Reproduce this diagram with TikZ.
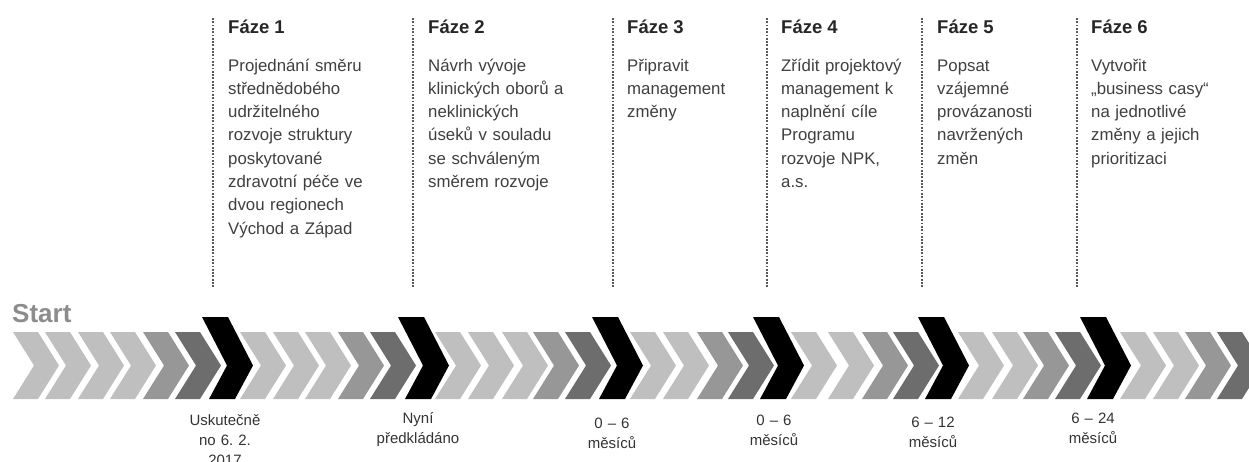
\documentclass[tikz,border=0pt]{standalone}
\usepackage{fontspec}
\setmainfont{Liberation Sans}
\frenchspacing
\definecolor{lg}{HTML}{BFBFBF}
\definecolor{mg}{HTML}{979797}
\definecolor{dg}{HTML}{6D6D6D}
\definecolor{headc}{HTML}{262626}
\definecolor{bodyc}{HTML}{3F3F3F}
\definecolor{labc}{HTML}{333333}
\definecolor{startc}{HTML}{8C8C8C}
\definecolor{dotc}{HTML}{595959}
\newcommand\gchev[2]{\fill[#2] (#1,332) -- ++(25,0) -- ++(21,33.5) -- ++(-21,33.5) -- ++(-25,0) -- ++(21,-33.5) -- cycle;}
\newcommand\bchev[1]{\fill[black] (#1,317) -- ++(26,0) -- ++(25,48.5) -- ++(-18,33.5) -- ++(-26,0) -- ++(18,-33.5) -- cycle;}
\begin{document}
\begin{tikzpicture}[x=1pt,y=-1pt,
  heading/.style={anchor=base west,inner sep=0pt,text=headc,font=\fontsize{18.5}{22}\selectfont\bfseries},
  body/.style={anchor=base west,inner sep=0pt,text=bodyc,text width=150pt,align=left,font=\fontsize{16.8}{23.3}\selectfont},
  lab/.style={anchor=base,inner sep=0pt,text=labc,text width=110pt,align=center,font=\fontsize{15}{20}\selectfont},
  dotline/.style={draw=dotc,line width=2pt,dash pattern=on 1.8pt off 1.5pt}]
\useasboundingbox (0,0) rectangle (1249,461);
\clip (0,0) rectangle (1249,461);
% chevron band
\foreach \x in {13,45,78,110} {\gchev{\x}{lg}}
\gchev{143}{mg}\gchev{175}{dg}\bchev{202}
\foreach \x in {240,273,305} {\gchev{\x}{lg}}
\gchev{338}{mg}\gchev{370}{dg}\bchev{398}
\foreach \x in {435,468,502} {\gchev{\x}{lg}}
\gchev{533}{mg}\gchev{565}{dg}\bchev{592}
\foreach \x in {630,663} {\gchev{\x}{lg}}
\gchev{697}{mg}\gchev{728}{dg}\bchev{753}
\foreach \x in {791,828} {\gchev{\x}{lg}}
\gchev{862}{mg}\gchev{893}{dg}\bchev{918}
\foreach \x in {958,992} {\gchev{\x}{lg}}
\gchev{1023}{mg}\gchev{1055}{dg}\bchev{1080}
\foreach \x in {1120,1153} {\gchev{\x}{lg}}
\gchev{1185}{mg}\gchev{1217}{dg}
% start
\node[anchor=base west,inner sep=0pt,text=startc,font=\fontsize{26}{30}\selectfont\bfseries] (start) at (12,322) {Start};
% dotted lines
\coordinate (d1t) at (213,18); \coordinate (d1b) at (213,287);
\coordinate (d2t) at (413,18); \coordinate (d2b) at (413,287);
\coordinate (d3t) at (613,18); \coordinate (d3b) at (613,287);
\coordinate (d4t) at (767,18); \coordinate (d4b) at (767,287);
\coordinate (d5t) at (922,18); \coordinate (d5b) at (922,287);
\coordinate (d6t) at (1077,18); \coordinate (d6b) at (1077,287);
\foreach \i in {1,...,6} {\draw[dotline] (d\i t) -- (d\i b);}
% headings
\node[heading] (h1) at (228,33) {Fáze 1};
\node[heading] (h2) at (428,33) {Fáze 2};
\node[heading] (h3) at (627,33) {Fáze 3};
\node[heading] (h4) at (781,33) {Fáze 4};
\node[heading] (h5) at (937,33) {Fáze 5};
\node[heading] (h6) at (1091,33) {Fáze 6};
% body texts
\node[body] (t1) at (228,71) {Projednání směru\\střednědobého\\udržitelného\\rozvoje struktury\\poskytované\\zdravotní péče ve\\dvou regionech\\Východ a Západ};
\node[body] (t2) at (428,71) {Návrh vývoje\\klinických oborů a\\neklinických\\úseků v souladu\\se schváleným\\směrem rozvoje};
\node[body] (t3) at (627,71) {Připravit\\management\\změny};
\node[body] (t4) at (781,71) {Zřídit projektový\\management k\\naplnění cíle\\Programu\\rozvoje NPK,\\a.s.};
\node[body] (t5) at (937,71) {Popsat\\vzájemné\\provázanosti\\navržených\\změn};
\node[body] (t6) at (1091,71) {Vytvořit\\„business casy“\\na jednotlivé\\změny a jejich\\prioritizaci};
% bottom labels
\node[lab] (l1) at (225,425) {Uskutečně\\no 6. 2.\\2017};
\node[lab] (l2) at (418,423) {Nyní\\předkládáno};
\node[lab] (l3) at (612,428) {0 – 6\\měsíců};
\node[lab] (l4) at (774,425) {0 – 6\\měsíců};
\node[lab] (l5) at (933,427) {6 – 12\\měsíců};
\node[lab] (l6) at (1093,423) {6 – 24\\měsíců};
\end{tikzpicture}
\end{document}
